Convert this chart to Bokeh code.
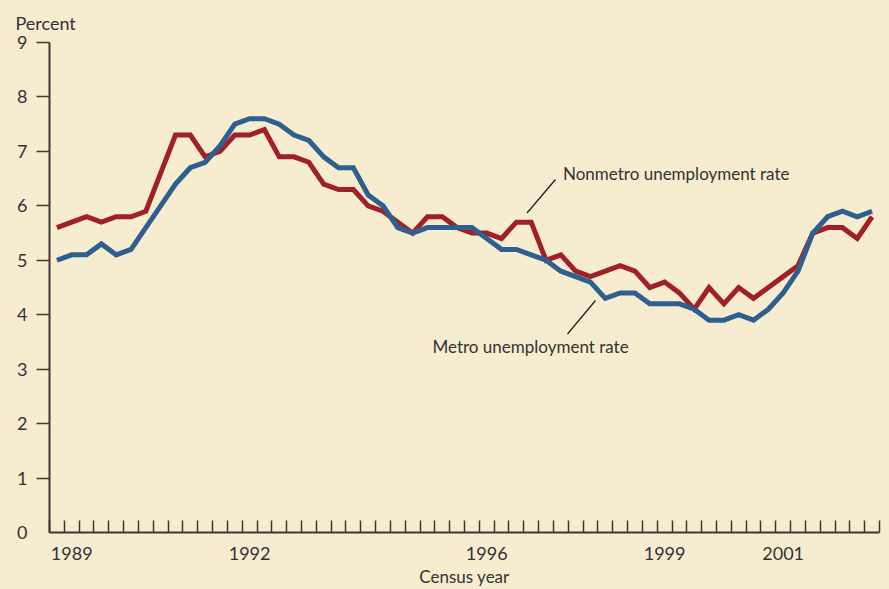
import numpy as np
from bokeh.plotting import figure
from bokeh.models import Range1d, FixedTicker, Label, ColumnDataSource
from bokeh.embed import file_html
from bokeh.resources import INLINE

# Quarterly unemployment rates, 1989 Q1 - 2002 Q4
start_year = 1989
n_quarters = 56
nonmetro = [5.6, 5.7, 5.8, 5.7, 5.8, 5.8, 5.9, 6.6, 7.3, 7.3, 6.9, 7.0, 7.3, 7.3,
            7.4, 6.9, 6.9, 6.8, 6.4, 6.3, 6.3, 6.0, 5.9, 5.7, 5.5, 5.8, 5.8, 5.6,
            5.5, 5.5, 5.4, 5.7, 5.7, 5.0, 5.1, 4.8, 4.7, 4.8, 4.9, 4.8, 4.5, 4.6,
            4.4, 4.1, 4.5, 4.2, 4.5, 4.3, 4.5, 4.7, 4.9, 5.5, 5.6, 5.6, 5.4, 5.8]
metro = [5.0, 5.1, 5.1, 5.3, 5.1, 5.2, 5.6, 6.0, 6.4, 6.7, 6.8, 7.1, 7.5, 7.6,
         7.6, 7.5, 7.3, 7.2, 6.9, 6.7, 6.7, 6.2, 6.0, 5.6, 5.5, 5.6, 5.6, 5.6,
         5.6, 5.4, 5.2, 5.2, 5.1, 5.0, 4.8, 4.7, 4.6, 4.3, 4.4, 4.4, 4.2, 4.2,
         4.2, 4.1, 3.9, 3.9, 4.0, 3.9, 4.1, 4.4, 4.8, 5.5, 5.8, 5.9, 5.8, 5.9]
year_labels = ["1989", "1992", "1996", "1999", "2001"]
y_ticks = [0, 1, 2, 3, 4, 5, 6, 7, 8, 9]

BG = "#F6ECD0"
RED = "#A11F27"
BLUE = "#2F5F8E"
AXIS = "#3B3832"
TXT = "#333333"
FONT = "Lato"
FS = "17px"

x = np.arange(n_quarters) + 0.5

p = figure(width=889, height=589, output_backend="svg", toolbar_location=None,
           x_range=Range1d(0, n_quarters), y_range=Range1d(0, 9),
           min_border_left=49, min_border_right=10, min_border_top=42, min_border_bottom=57,
           title="Percent")
p.background_fill_color = BG
p.border_fill_color = BG
p.outline_line_color = None
p.grid.visible = False

p.title.align = "left"
p.title.offset = -34
p.title.standoff = 18
p.title.text_font = FONT
p.title.text_font_size = "18px"
p.title.text_font_style = "normal"
p.title.text_color = TXT

p.line(x, nonmetro, line_color=RED, line_width=5, line_join="miter")
p.line(x, metro, line_color=BLUE, line_width=5, line_join="miter")

# x axis: quarterly tick marks, year labels mid-year
label_pos = [4 * (int(y) - start_year) + 1.5 for y in year_labels]
p.xaxis.ticker = FixedTicker(ticks=label_pos, minor_ticks=list(range(0, n_quarters + 1)))
p.xaxis.major_label_overrides = {pos: lab for pos, lab in zip(label_pos, year_labels)}
p.xaxis.major_tick_line_color = None
p.xaxis.minor_tick_in = 12
p.xaxis.minor_tick_out = 0
p.xaxis.minor_tick_line_color = AXIS
p.xaxis.minor_tick_line_width = 1.5
p.xaxis.major_label_standoff = 8
p.xaxis.axis_label = "Census year"
p.xaxis.axis_label_standoff = 3
p.xaxis.axis_label_text_font = FONT
p.xaxis.axis_label_text_font_size = FS
p.xaxis.axis_label_text_font_style = "normal"
p.xaxis.axis_label_text_color = TXT

# y axis: labels 0-9, tick marks 1-9
p.yaxis.ticker = FixedTicker(ticks=y_ticks, minor_ticks=y_ticks[1:])
p.yaxis.major_tick_line_color = None
p.yaxis.major_tick_in = 0
p.yaxis.major_tick_out = 13
p.yaxis.minor_tick_in = 0
p.yaxis.minor_tick_out = 13
p.yaxis.minor_tick_line_color = AXIS
p.yaxis.minor_tick_line_width = 1.5
p.yaxis.major_label_standoff = 9

for ax in (p.xaxis, p.yaxis):
    ax.axis_line_color = AXIS
    ax.axis_line_width = 2
    ax.major_label_text_font = FONT
    ax.major_label_text_font_size = "18px"
    ax.major_label_text_color = TXT

sx = 830 / n_quarters
sy = 490 / 9

def lab(text, xx, yy, align="left", baseline="alphabetic"):
    p.add_layout(Label(x=xx, y=yy, text=text, text_font=FONT, text_font_size=FS,
                       text_color=TXT, text_align=align, text_baseline=baseline))

lab("Nonmetro unemployment rate", (562.5 - 49) / sx, (532 - 173) / sy)
lab("Metro unemployment rate", (432 - 49) / sx, (532 - 346) / sy)

seg = ColumnDataSource(dict(
    x0=[(555 - 49) / sx, (567 - 49) / sx],
    y0=[(532 - 179) / sy, (532 - 333.5) / sy],
    x1=[(526.5 - 49) / sx, (595 - 49) / sx],
    y1=[(532 - 212.5) / sy, (532 - 300) / sy]))
p.segment("x0", "y0", "x1", "y1", source=seg, line_color="#222222", line_width=1.3)

html = file_html(p, INLINE)
html = html.replace("<head>", "<head><style>html,body{background:%s;}</style>" % BG, 1)
open("out.html", "w").write(html)
